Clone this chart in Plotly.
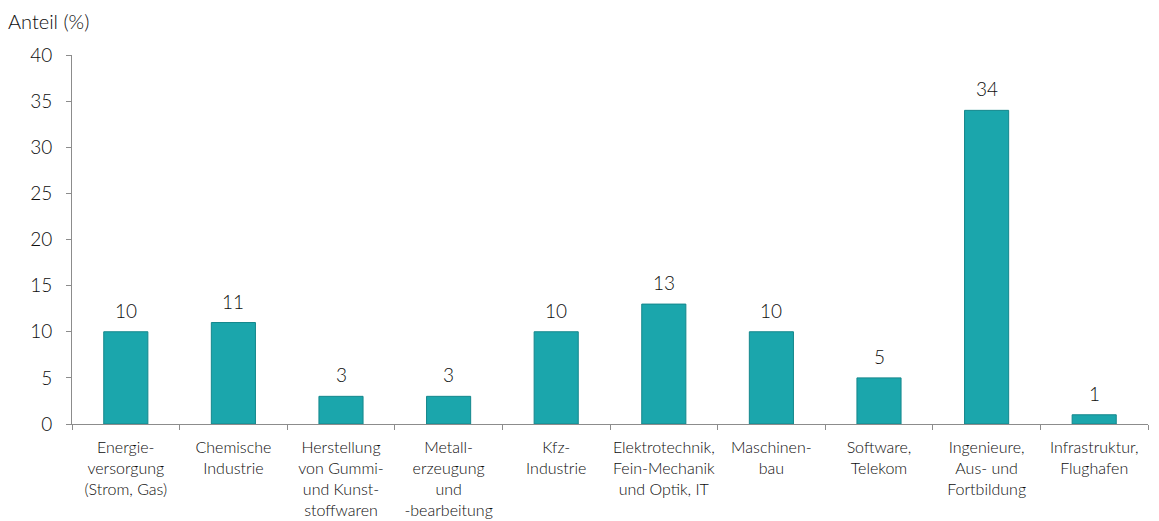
import plotly.graph_objects as go

# Branchenanteile in Prozent
categories = [
    "Energie-<br>versorgung<br>(Strom, Gas)",
    "Chemische<br>Industrie",
    "Herstellung<br>von Gummi-<br>und Kunst-<br>stoffwaren",
    "Metall-<br>erzeugung<br>und<br>-bearbeitung",
    "Kfz-<br>Industrie",
    "Elektrotechnik,<br>Fein-Mechanik<br>und Optik, IT",
    "Maschinen-<br>bau",
    "Software,<br>Telekom",
    "Ingenieure,<br>Aus- und<br>Fortbildung",
    "Infrastruktur,<br>Flughafen",
]
values = [10, 11, 3, 3, 10, 13, 10, 5, 34, 1]
y_ticks = [0, 5, 10, 15, 20, 25, 30, 35, 40]

FONT = "Lato, 'Open Sans', sans-serif"
TEXT = "#0d0d0d"
AXIS = "#8c8c8c"

fig = go.Figure(
    go.Bar(
        x=categories,
        y=values,
        marker=dict(color="#1ba6ac", line=dict(color="#14878c", width=1)),
        width=0.41,
        hoverinfo="x+y",
    )
)

# value labels above each bar
for cat, v in zip(categories, values):
    fig.add_annotation(
        x=cat,
        y=v,
        text=str(v),
        showarrow=False,
        yanchor="bottom",
        yshift=8,
        font=dict(family=FONT, size=19, color=TEXT, weight=300),
    )

fig.update_layout(
    width=1159,
    height=521,
    margin=dict(l=72, r=11, t=55, b=97),
    paper_bgcolor="white",
    plot_bgcolor="white",
    showlegend=False,
    font=dict(family=FONT, color=TEXT, weight=300),
    title=dict(
        text="Anteil (%)",
        x=8 / 1159,
        xanchor="left",
        xref="container",
        y=1 - 22 / 521,
        yanchor="middle",
        yref="container",
        font=dict(family=FONT, size=20, color=TEXT, weight=300),
    ),
)

fig.update_xaxes(
    showline=True,
    linecolor=AXIS,
    linewidth=1,
    ticks="outside",
    tickson="boundaries",
    ticklen=5,
    tickcolor=AXIS,
    tickangle=0,
    tickfont=dict(family=FONT, size=16, color=TEXT, weight=300),
    ticklabelstandoff=9,
    showgrid=False,
    automargin=False,
)

fig.update_yaxes(
    range=[0, 40],
    tickvals=y_ticks,
    showline=True,
    linecolor=AXIS,
    linewidth=1,
    ticks="outside",
    ticklen=5,
    tickcolor=AXIS,
    tickfont=dict(family=FONT, size=19, color=TEXT, weight=300),
    ticklabelstandoff=10,
    showgrid=False,
    zeroline=False,
    automargin=False,
)

fig.write_html("out.html")
